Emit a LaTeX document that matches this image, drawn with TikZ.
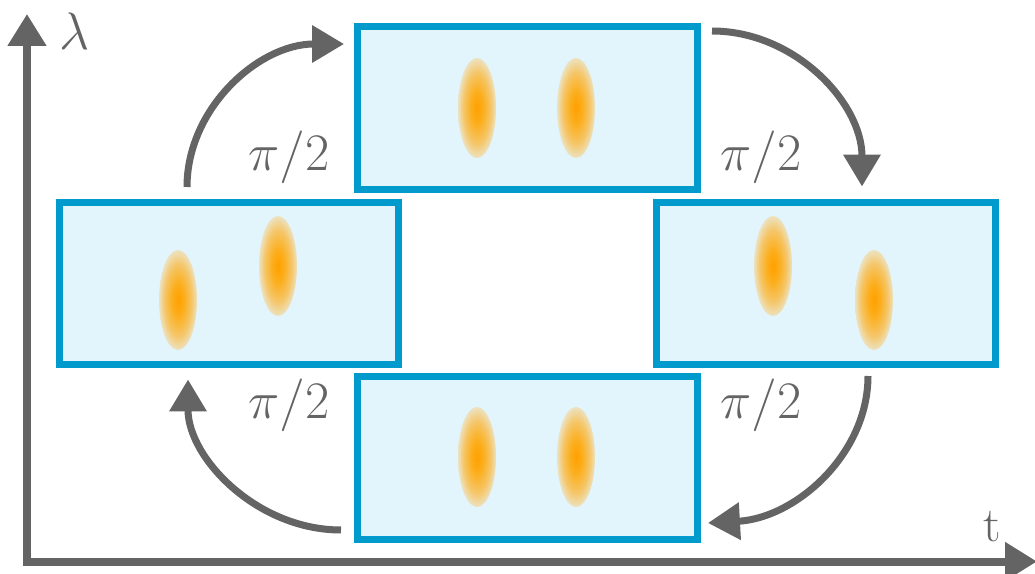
\RequirePackage{fix-cm}
\documentclass[tikz,border=0pt]{standalone}
\usetikzlibrary{arrows.meta}
\definecolor{boxfill}{RGB}{227,245,252}
\definecolor{boxline}{RGB}{0,154,204}
\definecolor{arrgray}{RGB}{100,100,100}
\definecolor{blobc}{RGB}{255,160,0}
\definecolor{bloba}{RGB}{252,174,28}
\definecolor{blobm}{RGB}{245,198,105}
\definecolor{blobe}{RGB}{236,226,192}
\pgfdeclareradialshading{blob}{\pgfpoint{0bp}{0bp}}{color(0bp)=(blobc); color(8bp)=(bloba); color(18bp)=(blobm); color(25bp)=(blobe); color(50bp)=(blobe)}
\tikzset{
  stage/.style={draw=boxline, fill=boxfill, line width=0.14cm, minimum width=6.8cm, minimum height=3.26cm, inner sep=0pt},
  flow/.style={draw=arrgray, line width=0.14cm, -{Triangle[length=0.64cm,width=0.72cm]}},
  axis/.style={draw=arrgray, line width=0.16cm, -{Triangle[length=0.64cm,width=0.74cm]}},
  lbl/.style={text=arrgray, font=\fontsize{30}{36}\selectfont, inner sep=0pt},
}
\newcommand{\blobat}[2]{\shade[shading=blob] (#1,#2) ellipse [x radius=19, y radius=50];}
\begin{document}
\begin{tikzpicture}[x=0.02cm, y=-0.02cm]
\useasboundingbox (0,0) rectangle (1035,574);
% boxes
\node[stage] (top) at (527.5,108) {};
\node[stage] (left) at (229,283.5) {};
\node[stage] (right) at (826,283.5) {};
\node[stage] (bottom) at (527.5,458) {};
% blobs
\blobat{477}{108}\blobat{576}{108}
\blobat{178}{300}\blobat{278}{266}
\blobat{773}{266}\blobat{874}{300}
\blobat{477}{457}\blobat{576}{457}
% axes
\coordinate (ytip) at (27,14);
\coordinate (xtip) at (1037,561.5);
\draw[axis] (27,565) -- (ytip);
\draw[axis] (23,561.5) -- (xtip);
\node[lbl] (lam) at (75,31) {$\lambda$};
\node[lbl, font=\fontsize{28}{34}\selectfont] (tl) at (992,527) {t};
% curved arrows
\coordinate (a1s) at (187,187);
\coordinate (a2s) at (712,31);
\coordinate (a3s) at (868,376);
\coordinate (a4s) at (341,530);
\draw[flow] (a1s) .. controls (187,108) and (259,44) .. ([xshift=-0.2cm,yshift=-0.42cm]top.north west);
\draw[flow] (a2s) .. controls (795,31) and (862,103) .. ([xshift=0.72cm,yshift=0.24cm]right.north);
\draw[flow] (a3s) .. controls (868,454) and (796,518) .. ([xshift=0.14cm,yshift=0.4cm]bottom.south east);
\draw[flow] (a4s) .. controls (257,530) and (188,458) .. ([xshift=-0.82cm,yshift=-0.22cm]left.south);
% labels
\node[lbl] (p1) at (289,157) {$\pi/2$};
\node[lbl] (p2) at (761,157) {$\pi/2$};
\node[lbl] (p3) at (289,405) {$\pi/2$};
\node[lbl] (p4) at (761,405) {$\pi/2$};
\end{tikzpicture}
\end{document}
